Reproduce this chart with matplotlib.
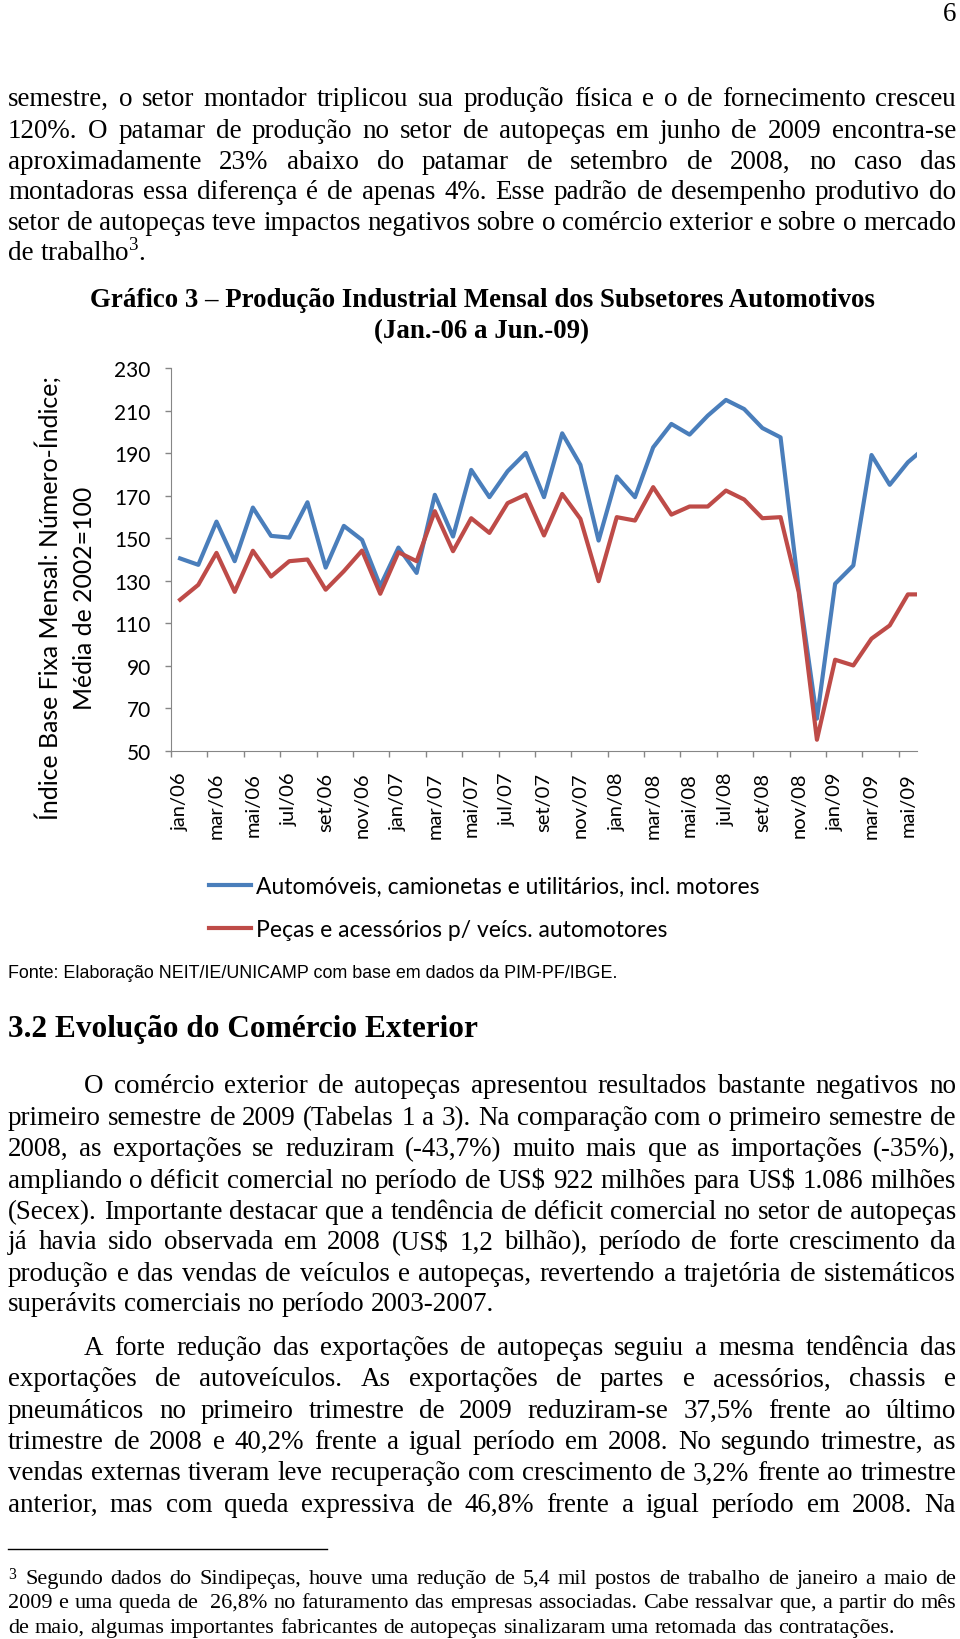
import numpy as np
import matplotlib
matplotlib.use("Agg")
import matplotlib.pyplot as plt
from matplotlib.lines import Line2D

plt.rcParams['mathtext.fontset'] = 'custom'
plt.rcParams['mathtext.rm'] = 'Liberation Serif'

# dados do grafico (jan/06 a jun/09)
rotulos = ["jan/06", "mar/06", "mai/06", "jul/06", "set/06", "nov/06",
           "jan/07", "mar/07", "mai/07", "jul/07", "set/07", "nov/07",
           "jan/08", "mar/08", "mai/08", "jul/08", "set/08", "nov/08",
           "jan/09", "mar/09", "mai/09"]

automoveis = [140.5, 137.5, 157.8, 139.2, 164.4, 151.1, 150.3, 166.9, 136.2, 155.8,
              149.2, 127.5, 145.6, 133.7, 170.4, 150.8, 182.1, 169.3, 181.5, 190.1,
              169.3, 199.3, 184.5, 148.9, 179.0, 169.3, 192.7, 203.7, 198.7, 207.6,
              215.0, 210.7, 201.8, 197.4, 126.0, 65.2, 128.6, 137.2, 189.1, 175.1,
              185.7, 193.0]

pecas = [121.1, 128.1, 143.1, 124.8, 144.1, 132.0, 139.2, 140.0, 125.8, 134.5,
         144.2, 123.9, 143.4, 139.2, 162.7, 143.9, 159.4, 152.5, 166.5, 170.5,
         151.3, 170.8, 159.1, 129.8, 159.9, 158.3, 174.0, 161.1, 164.9, 164.9,
         172.4, 168.2, 159.4, 159.9, 124.7, 55.3, 92.9, 90.2, 102.8, 109.0,
         123.6, 123.6]

serie1 = "Automóveis, camionetas e utilitários, incl. motores"
serie2 = "Peças e acessórios p/ veícs. automotores"

# textos da pagina
par0 = ["semestre, o setor montador triplicou sua produção física e o de fornecimento cresceu",
        "120%. O patamar de produção no setor de autopeças em junho de 2009 encontra-se",
        "aproximadamente 23% abaixo do patamar de setembro de 2008, no caso das",
        "montadoras essa diferença é de apenas 4%. Esse padrão de desempenho produtivo do",
        "setor de autopeças teve impactos negativos sobre o comércio exterior e sobre o mercado",
        "de trabalho$^3$."]
par1 = ["O comércio exterior de autopeças apresentou resultados bastante negativos no",
        "primeiro semestre de 2009 (Tabelas 1 a 3). Na comparação com o primeiro semestre de",
        "2008, as exportações se reduziram (-43,7%) muito mais que as importações (-35%),",
        "ampliando o déficit comercial no período de US\\$ 922 milhões para US\\$ 1.086 milhões",
        "(Secex). Importante destacar que a tendência de déficit comercial no setor de autopeças",
        "já havia sido observada em 2008 (US\\$ 1,2 bilhão), período de forte crescimento da",
        "produção e das vendas de veículos e autopeças, revertendo a trajetória de sistemáticos",
        "superávits comerciais no período 2003-2007."]
par2 = ["A forte redução das exportações de autopeças seguiu a mesma tendência das",
        "exportações de autoveículos. As exportações de partes e acessórios, chassis e",
        "pneumáticos no primeiro trimestre de 2009 reduziram-se 37,5% frente ao último",
        "trimestre de 2008 e 40,2% frente a igual período em 2008. No segundo trimestre, as",
        "vendas externas tiveram leve recuperação com crescimento de 3,2% frente ao trimestre",
        "anterior, mas com queda expressiva de 46,8% frente a igual período em 2008. Na"]
nota = ["$^3$ Segundo dados do Sindipeças, houve uma redução de 5,4 mil postos de trabalho de janeiro a maio de",
        "2009 e uma queda de  26,8% no faturamento das empresas associadas. Cabe ressalvar que, a partir do mês",
        "de maio, algumas importantes fabricantes de autopeças sinalizaram uma retomada das contratações."]

AZUL = "#4A7EBB"
VERMELHO = "#BE4B48"
CINZA = "#868686"
SERIF = "Liberation Serif"

W, H = 960.0, 1640.0
fig = plt.figure(figsize=(9.6, 16.4), dpi=100)
renderer = fig.canvas.get_renderer()


def fx(px):
    return px / W


def fy(py):
    return 1 - py / H


def largura(s, size, **kw):
    t = fig.text(0, 0, s, fontsize=size, **kw)
    w = t.get_window_extent(renderer).width
    t.remove()
    return w


def espaco(size, **kw):
    return largura("x x", size, **kw) - largura("xx", size, **kw)


def natural(texto, size, **kw):
    ps = texto.split(" ")
    return sum(largura(p, size, **kw) for p in ps) + (len(ps) - 1) * espaco(size, **kw)


def linha(texto, y, x0, x1, size, justify=True, **kw):
    ps = texto.split(" ")
    objs = [fig.text(0, fy(y), p, fontsize=size, va="baseline", **kw) for p in ps]
    ws = [o.get_window_extent(renderer).width for o in objs]
    if justify and len(objs) > 1:
        gap = (x1 - x0 - sum(ws)) / (len(objs) - 1)
    else:
        gap = espaco(size, **kw)
    x = x0
    for o, w in zip(objs, ws):
        o.set_x(fx(x))
        x += w + gap


def ajusta(texto, alvo, base=10, **kw):
    return base * alvo / largura(texto, base, **kw)


# tamanho do corpo do texto a partir das linhas justificadas
x0, x1, recuo = 8.0, 956.0, 84.0
just = [(l, x1 - x0) for l in par0[:-1] + par1[1:-1] + par2[1:]] + \
       [(par1[0], x1 - recuo), (par2[0], x1 - recuo)]
corpo = min(10 * alvo / natural(l, 10, family=SERIF) for l, alvo in just)
nota_size = min(10 * (x1 - x0) / natural(l, 10, family=SERIF) for l in nota[:2])

# numero da pagina
fig.text(fx(956), fy(21), "6", fontsize=corpo, family=SERIF, ha="right", va="baseline")

base0 = [106, 138, 169, 199.5, 230, 260.5]
for i, (l, y) in enumerate(zip(par0, base0)):
    linha(l, y, x0, x1, corpo, justify=i < len(par0) - 1, family=SERIF)

# titulo do grafico
tit1 = "Gráfico 3 – Produção Industrial Mensal dos Subsetores Automotivos"
tit_size = ajusta(tit1, 787, family=SERIF, fontweight="bold")
fig.text(fx(482), fy(307), tit1, fontsize=tit_size, family=SERIF, fontweight="bold",
         ha="center", va="baseline")
fig.text(fx(482), fy(338), "(Jan.-06 a Jun.-09)", fontsize=tit_size, family=SERIF,
         fontweight="bold", ha="center", va="baseline")

# grafico
ax = fig.add_axes([fx(171), fy(752), (917 - 171) / W, (752 - 369) / H])
x = np.arange(len(automoveis))
l1, = ax.plot(x, automoveis, color=AZUL, lw=3.0, solid_joinstyle="round")
l2, = ax.plot(x, pecas, color=VERMELHO, lw=3.0, solid_joinstyle="round")
ax.set_xlim(-0.5, 40.5)
ax.set_ylim(50, 230)
ax.set_yticks(range(50, 231, 20))
ax.set_xticks(np.arange(-0.5, 40, 2))
ax.set_xticklabels([])
ax.set_xticks(np.arange(0, 41, 2), minor=True)
ax.set_xticklabels(rotulos, minor=True, rotation=90, fontsize=14.5, family="Lato")
for t in ax.get_yticklabels():
    t.set_family("Lato")
    t.set_fontsize(15)
ax.tick_params(axis="x", which="major", length=4.5, color=CINZA, width=1)
ax.tick_params(axis="x", which="minor", length=0, pad=15)
ax.tick_params(axis="y", length=4.5, color=CINZA, width=1, pad=10)
for s in ["top", "right"]:
    ax.spines[s].set_visible(False)
for s in ["left", "bottom"]:
    ax.spines[s].set_color(CINZA)

fig.text(fx(65.5), fy(598), "Índice Base Fixa Mensal: Número-Índice;\nMédia de 2002=100",
         rotation=90, ha="center", va="center", multialignment="center",
         fontsize=17.9, family="Lato", linespacing=1.6)

leg_size = ajusta(serie1, 505, family="Lato")
px = leg_size * 100 / 72
ax.legend([l1, l2], [serie1, serie2], loc="center left",
          bbox_to_anchor=(fx(209), fy(909)), bbox_transform=fig.transFigure,
          frameon=False, prop={"family": "Lato", "size": leg_size},
          handlelength=42 / px, handletextpad=5 / px, labelspacing=(50 - 1.25 * px) / px,
          borderpad=0, borderaxespad=0)

# fonte
fonte = "Fonte: Elaboração NEIT/IE/UNICAMP com base em dados da PIM-PF/IBGE."
fam_n = ["Liberation Sans Narrow", "Liberation Sans"]
fig.text(fx(8), fy(978), fonte, fontsize=ajusta(fonte, 609, family=fam_n),
         family=fam_n, va="baseline")

# secao 3.2
sec = "3.2 Evolução do Comércio Exterior"
fig.text(fx(8), fy(1037), sec, fontsize=ajusta(sec, 470, family=SERIF, fontweight="bold"),
         family=SERIF, fontweight="bold", va="baseline")

base1 = [1093.5, 1125, 1156, 1187.5, 1219, 1249.5, 1281, 1311]
for i, (l, y) in enumerate(zip(par1, base1)):
    linha(l, y, recuo if i == 0 else x0, x1, corpo, justify=i < len(par1) - 1, family=SERIF)

base2 = [1355, 1386.5, 1418, 1449, 1480.5, 1512]
for i, (l, y) in enumerate(zip(par2, base2)):
    linha(l, y, recuo if i == 0 else x0, x1, corpo, justify=True, family=SERIF)

# nota de rodape
fig.add_artist(Line2D([fx(8), fx(327)], [fy(1550), fy(1550)], color="black", lw=1))
base3 = [1584, 1608, 1633]
for i, (l, y) in enumerate(zip(nota, base3)):
    linha(l, y, x0, x1, nota_size, justify=i < len(nota) - 1, family=SERIF)

fig.savefig("out.png", dpi=100, facecolor="white")
